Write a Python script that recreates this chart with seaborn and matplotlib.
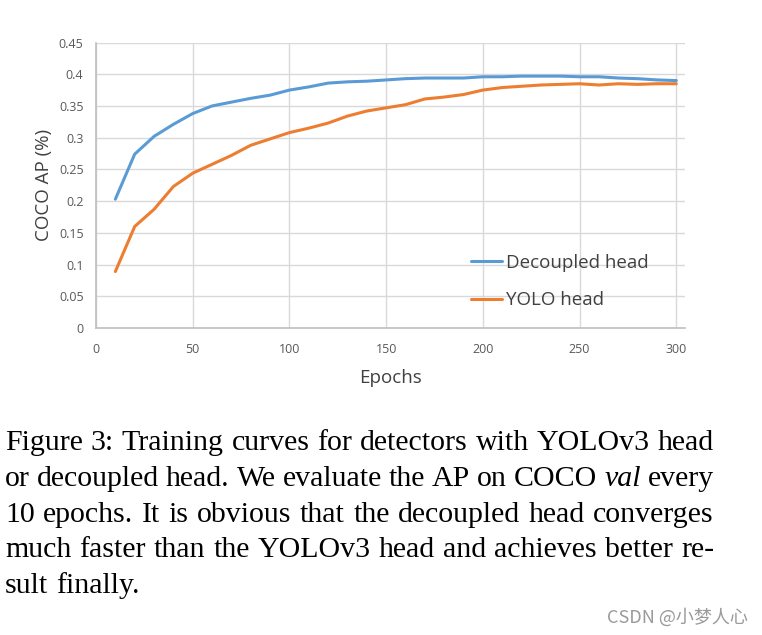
import numpy as np
import pandas as pd
import seaborn as sns
import matplotlib.pyplot as plt

epochs = list(range(10, 301, 10))
decoupled_ap = [0.203, 0.274, 0.302, 0.321, 0.338, 0.350, 0.356, 0.362, 0.367, 0.375,
                0.380, 0.386, 0.388, 0.389, 0.391, 0.393, 0.394, 0.394, 0.394, 0.396,
                0.396, 0.397, 0.397, 0.397, 0.396, 0.396, 0.394, 0.393, 0.391, 0.390]
yolo_ap = [0.089, 0.160, 0.187, 0.223, 0.244, 0.258, 0.272, 0.288, 0.298, 0.308,
           0.315, 0.323, 0.334, 0.342, 0.347, 0.352, 0.361, 0.364, 0.368, 0.375,
           0.379, 0.381, 0.383, 0.384, 0.385, 0.383, 0.385, 0.384, 0.385, 0.385]
series_names = ["Decoupled head", "YOLO head"]
x_ticks = [0, 50, 100, 150, 200, 250, 300]
y_ticks = [0, 0.05, 0.1, 0.15, 0.2, 0.25, 0.3, 0.35, 0.4, 0.45]
y_tick_labels = ["0", "0.05", "0.1", "0.15", "0.2", "0.25", "0.3", "0.35", "0.4", "0.45"]

caption_lines = [
    "Figure 3: Training curves for detectors with YOLOv3 head",
    "or decoupled head. We evaluate the AP on COCO val every",
    "10 epochs. It is obvious that the decoupled head converges",
    "much faster than the YOLOv3 head and achieves better re-",
    "sult finally.",
]

df = pd.DataFrame({
    "Epochs": epochs * 2,
    "AP": decoupled_ap + yolo_ap,
    "head": [series_names[0]] * len(epochs) + [series_names[1]] * len(epochs),
})

sns.set_theme(style="whitegrid")
plt.rcParams["font.family"] = ["Open Sans", "DejaVu Sans"]

fig = plt.figure(figsize=(7.62, 6.35), dpi=100)
ax = fig.add_axes([96 / 762, 1 - 328 / 635, (685 - 96) / 762, (328 - 42.5) / 635])

sns.lineplot(data=df, x="Epochs", y="AP", hue="head", hue_order=series_names,
             palette=["#5B9BD5", "#ED7D31"], linewidth=2.2, ax=ax)

ax.set_xlim(0, 304.5)
ax.set_ylim(0, 0.45)
ax.set_xticks(x_ticks)
ax.set_yticks(y_ticks)
ax.set_yticklabels(y_tick_labels)
ax.grid(True, color="#d9d9d9", linewidth=1)
ax.tick_params(length=0, labelsize=9, colors="#595959", pad=9)
ax.tick_params(axis="x", pad=11)
for s in ["top", "right"]:
    ax.spines[s].set_visible(False)
for s in ["left", "bottom"]:
    ax.spines[s].set_color("#bfbfbf")
    ax.spines[s].set_linewidth(1.2)
ax.set_xlabel("Epochs", fontsize=13.5, color="#404040", labelpad=9)
ax.set_ylabel("COCO AP (%)", fontsize=13.5, color="#404040", labelpad=4)

leg = ax.legend(loc="upper left", bbox_to_anchor=(471 / 762, 1 - 254 / 635),
                bbox_transform=fig.transFigure, frameon=False, fontsize=13.5,
                handlelength=1.65, handletextpad=0.2, labelspacing=1.02,
                borderpad=0, borderaxespad=0)
for t in leg.get_texts():
    t.set_color("#404040")

# caption, justified like the paper
renderer = fig.canvas.get_renderer()
cap_size = 21.5
left_px, right_px = 5, 714
baselines = [450, 486, 521.7, 556.9, 592.7]
for i, line in enumerate(caption_lines):
    words = line.split(" ")
    y = 1 - baselines[i] / 635
    objs = []
    for w in words:
        style = "italic" if w == "val" else "normal"
        objs.append(fig.text(0, y, w, fontsize=cap_size, family="Liberation Serif",
                             style=style, va="baseline", ha="left", color="black"))
    widths = [o.get_window_extent(renderer).width for o in objs]
    space = fig.text(0, 0, "a b", fontsize=cap_size, family="Liberation Serif")
    sw = space.get_window_extent(renderer).width
    space.set_text("ab")
    sw -= space.get_window_extent(renderer).width
    space.remove()
    if i < len(caption_lines) - 1:
        gap = (right_px - left_px - sum(widths)) / (len(words) - 1)
    else:
        gap = sw
    xpos = left_px
    for o, w in zip(objs, widths):
        o.set_x(xpos / 762)
        xpos += w + gap

fig.text(748 / 762, 1 - 617 / 635, "CSDN @小梦人心", fontsize=13, color="#9a9a9a",
         ha="right", va="center", family=["Noto Sans CJK SC", "DejaVu Sans"])

fig.savefig("out.png", dpi=100)
